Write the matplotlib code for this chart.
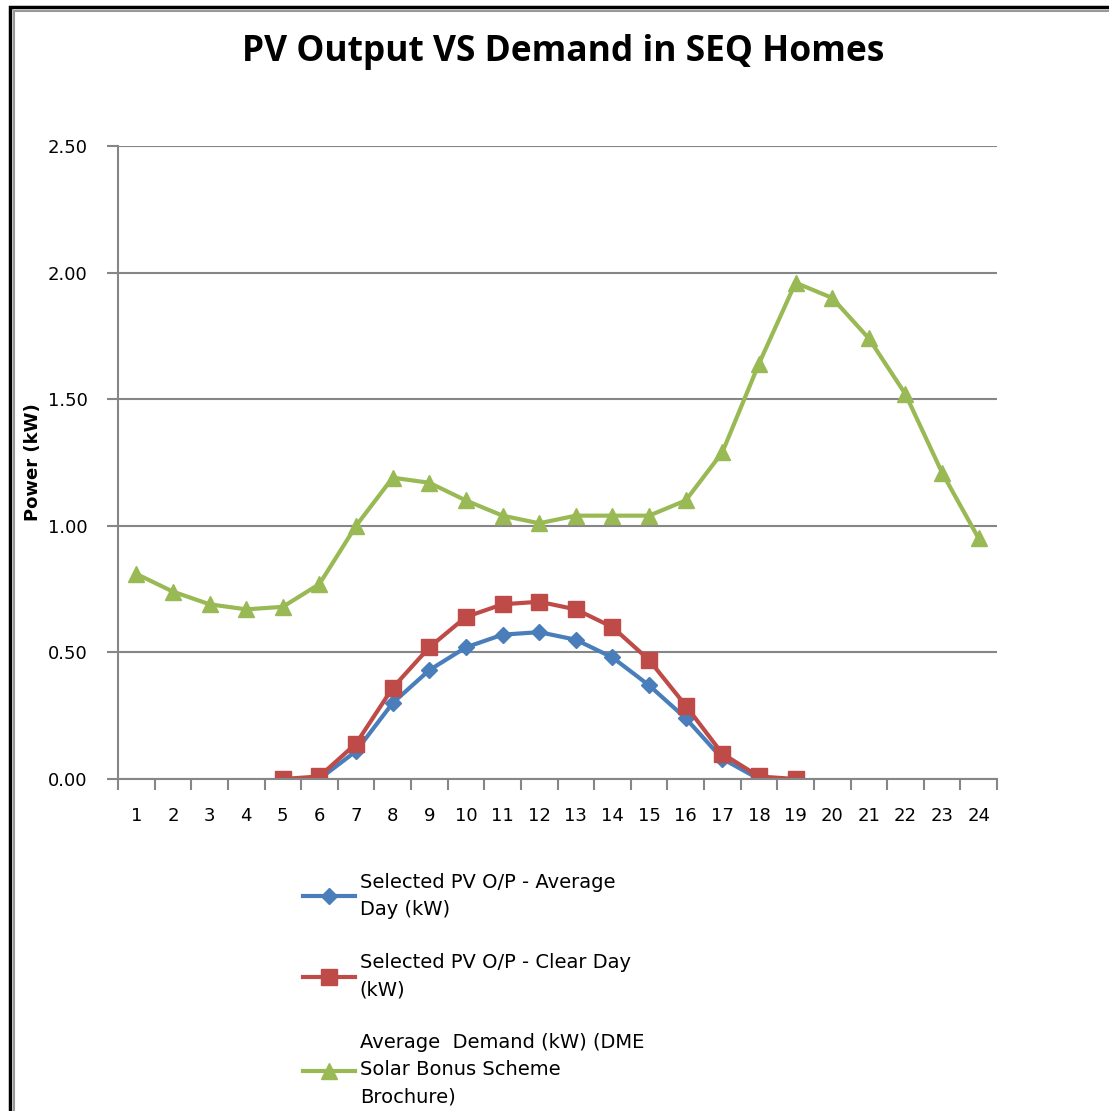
import numpy as np
import matplotlib.pyplot as plt
from matplotlib.patches import Rectangle

hours = list(range(1, 25))
nan = np.nan

# Selected PV O/P - Average Day (kW)
pv_average = [nan, nan, nan, nan, 0.00, 0.00, 0.11, 0.30, 0.43, 0.52, 0.57, 0.58,
              0.55, 0.48, 0.37, 0.24, 0.08, 0.00, nan, nan, nan, nan, nan, nan]
# Selected PV O/P - Clear Day (kW)
pv_clear = [nan, nan, nan, nan, 0.00, 0.01, 0.14, 0.36, 0.52, 0.64, 0.69, 0.70,
            0.67, 0.60, 0.47, 0.29, 0.10, 0.01, 0.00, nan, nan, nan, nan, nan]
# Average Demand (kW)
demand = [0.81, 0.74, 0.69, 0.67, 0.68, 0.77, 1.00, 1.19, 1.17, 1.10, 1.04, 1.01,
          1.04, 1.04, 1.04, 1.10, 1.29, 1.64, 1.96, 1.90, 1.74, 1.52, 1.21, 0.95]

labels = ['Selected PV O/P - Average\nDay (kW)',
          'Selected PV O/P - Clear Day\n(kW)',
          'Average  Demand (kW) (DME\nSolar Bonus Scheme\nBrochure)']
y_ticks = [0.0, 0.5, 1.0, 1.5, 2.0, 2.5]

W, H = 1109, 1111
fig = plt.figure(figsize=(W / 100, H / 100), dpi=100)
ax = fig.add_axes([118 / W, 1 - 779 / H, (997 - 118) / W, (779 - 146) / H])

grey = '#868686'
ax.plot(hours, pv_average, color='#4A7EBB', lw=3, marker='D', ms=8, label=labels[0])
ax.plot(hours, pv_clear, color='#BE4B48', lw=3, marker='s', ms=12, label=labels[1])
ax.plot(hours, demand, color='#98B954', lw=3, marker='^', ms=11, label=labels[2])

ax.set_xlim(0.5, 24.5)
ax.set_ylim(0, 2.5)
ax.set_yticks(y_ticks)
ax.set_yticklabels([f'{v:.2f}' for v in y_ticks])
ax.set_xticks(hours)
ax.set_xticks(np.arange(0.5, 25, 1), minor=True)
ax.tick_params(axis='x', which='major', length=0, pad=20, labelsize=13)
ax.tick_params(axis='x', which='minor', length=8, width=1.5, color=grey, direction='out')
ax.tick_params(axis='y', length=8, width=1.5, color=grey, direction='out', pad=14, labelsize=13)
ax.yaxis.grid(True, color=grey, lw=1.5)
ax.set_axisbelow(True)
for s in ['top', 'right']:
    ax.spines[s].set_visible(False)
for s in ['left', 'bottom']:
    ax.spines[s].set_color(grey)
    ax.spines[s].set_linewidth(1.5)

ax.set_ylabel('Power (kW)', fontsize=13, fontweight='bold', labelpad=4)
fig.text(563 / W, 1 - 52 / H, 'PV Output VS Demand in SEQ Homes', ha='center', va='center',
         fontsize=25.5, fontweight='bold', family='Open Sans')

leg = fig.legend(loc='upper left', bbox_to_anchor=(285 / W, 1 - 855 / H), frameon=False,
                 fontsize=14, handlelength=2.7, labelspacing=1.75, handletextpad=0.25)
for t in leg.get_texts():
    t.set_linespacing(1.55)

fig.patches.append(Rectangle((10 / W, -0.1), 1.2, 1.1 - 7 / H, transform=fig.transFigure,
                             fill=False, edgecolor='black', lw=2.5))
fig.patches.append(Rectangle((14 / W, -0.1), 1.2, 1.1 - 11 / H, transform=fig.transFigure,
                             fill=False, edgecolor='#999999', lw=1.5))

fig.savefig('out.png', dpi=100)
